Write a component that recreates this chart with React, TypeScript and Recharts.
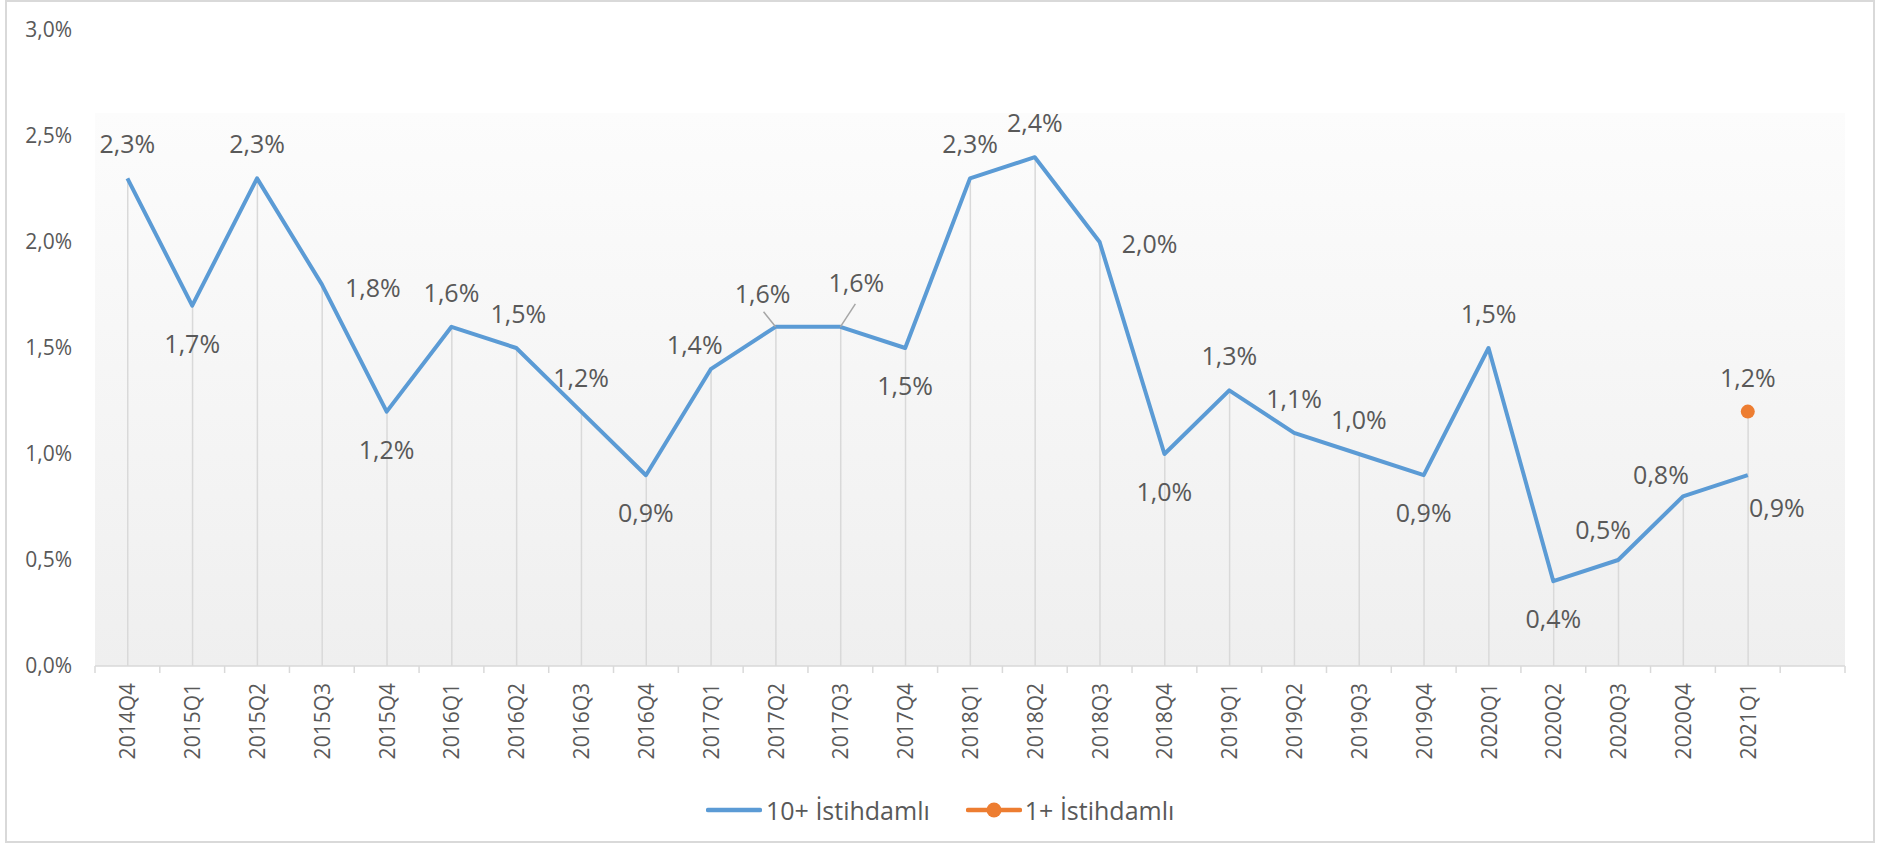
import {
  ComposedChart,
  Line,
  Bar,
  XAxis,
  YAxis,
  CartesianGrid,
  LabelList,
} from "recharts";

// quarters (last slot is an empty category, as in the source sheet)
const quarters = [
  "2014Q4", "2015Q1", "2015Q2", "2015Q3", "2015Q4", "2016Q1", "2016Q2",
  "2016Q3", "2016Q4", "2017Q1", "2017Q2", "2017Q3", "2017Q4", "2018Q1",
  "2018Q2", "2018Q3", "2018Q4", "2019Q1", "2019Q2", "2019Q3", "2019Q4",
  "2020Q1", "2020Q2", "2020Q3", "2020Q4", "2021Q1", "",
];

const emp10 = [
  2.3, 1.7, 2.3, 1.8, 1.2, 1.6, 1.5, 1.2, 0.9, 1.4, 1.6, 1.6, 1.5, 2.3,
  2.4, 2.0, 1.0, 1.3, 1.1, 1.0, 0.9, 1.5, 0.4, 0.5, 0.8, 0.9,
];

const emp1: (number | null)[] = [
  null, null, null, null, null, null, null, null, null, null, null, null, null,
  null, null, null, null, null, null, null, null, null, null, null, null, 1.2,
];

const yTicks = [0, 0.5, 1, 1.5, 2, 2.5, 3];

// label offsets (dx, dy) for the 10+ series, mimicking Excel's placement
const labelOffsets: [number, number][] = [
  [0, -35], [0, 37], [0, -35], [51, 3], [0, 37], [0, -35], [2, -35],
  [0, -35], [0, 37], [-16, -25], [-13, -34], [16, -45], [0, 37], [0, -35],
  [0, -35], [50, 1], [0, 37], [0, -35], [0, -35], [0, -35], [0, 37],
  [0, -35], [0, 37], [-15, -31], [-22, -22], [29, 32],
];
const leaders: Record<number, [number, number]> = {
  10: [-12, -15],
  11: [15, -23],
};

const data = quarters.map((q, i) => {
  const a = emp10[i] ?? null;
  const b = emp1[i] ?? null;
  const vals = [a, b].filter((v) => v !== null) as number[];
  return { q, v10: a, v1: b, drop: vals.length ? Math.max(...vals) : null };
});

const W = 1881;
const H = 844;
const LEFT = 95;
const RIGHT = 36;
const TOP = 30;
const AXIS_Y = 666;
const BAND = (W - LEFT - RIGHT) / quarters.length;
const TXT = "#595959";
const FONT = "'Open Sans', sans-serif";

const fmt = (v: number) => v.toFixed(1).replace(".", ",") + "%";

const XTick = (props: any) => {
  const { x, y, payload, index } = props;
  const half = BAND / 2;
  return (
    <g>
      <line x1={x - half} x2={x - half} y1={y} y2={y + 7} stroke="#d9d9d9" strokeWidth={1.5} />
      {index === quarters.length - 1 && (
        <line x1={x + half} x2={x + half} y1={y} y2={y + 7} stroke="#d9d9d9" strokeWidth={1.5} />
      )}
      <text
        transform={`translate(${x},${y + 17}) rotate(-90)`}
        textAnchor="end"
        dominantBaseline="central"
        fontSize={21}
        fill={TXT}
        fontFamily={FONT}
      >
        {payload.value}
      </text>
    </g>
  );
};

const Label10 = (props: any) => {
  const { x, y, value, index } = props;
  if (value == null) return null;
  const [dx, dy] = labelOffsets[index] || [0, -35];
  const ld = leaders[index];
  return (
    <g>
      {ld && (
        <line x1={x} y1={y} x2={x + ld[0]} y2={y + ld[1]} stroke="#a6a6a6" strokeWidth={1.5} />
      )}
      <text
        x={x + dx}
        y={y + dy}
        textAnchor="middle"
        dominantBaseline="central"
        fontSize={25}
        fill={TXT}
        fontFamily={FONT}
      >
        {fmt(value)}
      </text>
    </g>
  );
};

const Label1 = (props: any) => {
  const { x, y, value } = props;
  if (value == null) return null;
  return (
    <text
      x={x}
      y={y - 35}
      textAnchor="middle"
      dominantBaseline="central"
      fontSize={25}
      fill={TXT}
      fontFamily={FONT}
    >
      {fmt(value)}
    </text>
  );
};

const LegendBox = () => (
  <div
    style={{
      position: "absolute",
      left: 706,
      top: 793,
      height: 34,
      display: "flex",
      alignItems: "center",
      fontFamily: FONT,
      fontSize: 25,
      color: TXT,
      whiteSpace: "nowrap",
    }}
  >
    <svg width={56} height={18}>
      <line x1={2} x2={54} y1={9} y2={9} stroke="#5b9bd5" strokeWidth={4.5} strokeLinecap="round" />
    </svg>
    <span style={{ marginLeft: 4 }}>10+ İstihdamlı</span>
    <svg width={56} height={18} style={{ marginLeft: 36 }}>
      <line x1={2} x2={54} y1={9} y2={9} stroke="#ed7d31" strokeWidth={4.5} strokeLinecap="round" />
      <circle cx={28} cy={9} r={7.5} fill="#ed7d31" />
    </svg>
    <span style={{ marginLeft: 3 }}>1+ İstihdamlı</span>
  </div>
);

export default function App() {
  return (
    <div style={{ position: "absolute", left: 0, top: 0, width: W, height: H, background: "#fff" }}>
      <div
        style={{
          position: "absolute",
          left: 5,
          top: 0,
          width: 1870,
          height: 843,
          border: "2px solid #d9d9d9",
          boxSizing: "border-box",
        }}
      />
      <div style={{ position: "absolute", left: 0, top: 0 }}>
        <ComposedChart
          width={W}
          height={H}
          data={data}
          margin={{ top: TOP, right: RIGHT, left: 0, bottom: H - AXIS_Y - 120 }}
          barCategoryGap={0}
        >
          <defs>
            <linearGradient id="plotBg" x1="0" y1="0" x2="0" y2="1">
              <stop offset="0" stopColor="#ffffff" />
              <stop offset="0.13" stopColor="#ffffff" />
              <stop offset="0.131" stopColor="#fcfcfc" />
              <stop offset="1" stopColor="#efefef" />
            </linearGradient>
          </defs>
          <CartesianGrid horizontal={false} vertical={false} fill="url(#plotBg)" stroke="none" />
          <XAxis
            dataKey="q"
            interval={0}
            height={120}
            tickSize={0}
            tickMargin={0}
            tickLine={false}
            axisLine={{ stroke: "#d9d9d9", strokeWidth: 1.5 }}
            tick={<XTick />}
          />
          <YAxis
            width={LEFT}
            domain={[0, 3]}
            ticks={yTicks}
            axisLine={false}
            tickLine={false}
            tickSize={0}
            tickMargin={23}
            tickFormatter={fmt}
            tick={{ fontSize: 21, fill: TXT, fontFamily: FONT }}
          />
          <Bar dataKey="drop" barSize={1.5} fill="#d9d9d9" isAnimationActive={false} />
          <Line
            type="linear"
            dataKey="v10"
            stroke="#5b9bd5"
            strokeWidth={4}
            strokeLinejoin="round"
            dot={false}
            activeDot={false}
            isAnimationActive={false}
          >
            <LabelList dataKey="v10" content={<Label10 />} />
          </Line>
          <Line
            type="linear"
            dataKey="v1"
            stroke="#ed7d31"
            strokeWidth={4}
            dot={{ r: 7, fill: "#ed7d31", stroke: "none" }}
            activeDot={false}
            isAnimationActive={false}
          >
            <LabelList dataKey="v1" content={<Label1 />} />
          </Line>
        </ComposedChart>
      </div>
      <LegendBox />
    </div>
  );
}
